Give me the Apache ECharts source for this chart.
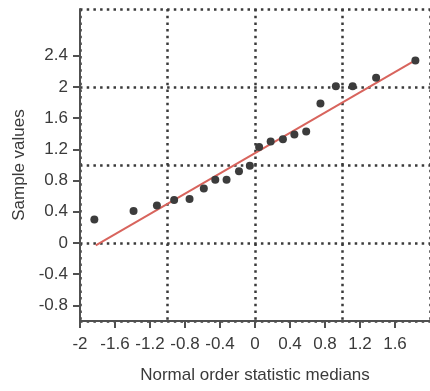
<!DOCTYPE html>
<html>
<head>
<meta charset="utf-8">
<script src="https://cdn.jsdelivr.net/npm/echarts@6/dist/echarts.min.js"></script>
<style>html,body{margin:0;padding:0;background:#fff}#c{width:430px;height:391px}</style>
</head>
<body>
<div id="c"></div>
<script>
var xMedians = [-1.836,-1.388,-1.121,-0.924,-0.748,-0.585,-0.454,-0.325,-0.183,-0.059,0.047,0.179,0.319,0.450,0.585,0.748,0.924,1.116,1.384,1.833];
var sampleValues = [0.30,0.41,0.48,0.55,0.565,0.70,0.81,0.81,0.92,0.99,1.23,1.30,1.33,1.39,1.43,1.79,2.01,2.01,2.12,2.34];
var fitLineX = [-1.82,1.83];
var fitLineY = [-0.03,2.34];
var xTickLabels = [-2,-1.6,-1.2,-0.8,-0.4,0,0.4,0.8,1.2,1.6];
var yTickLabels = [-0.8,-0.4,0,0.4,0.8,1.2,1.6,2,2.4];

var FONT = "'Liberation Sans',Arial,sans-serif";
var TXT = '#3a3a3a';
var chart = echarts.init(document.getElementById('c'), null, {renderer:'canvas'});
var dottedStyle = {color:'#3a3a3a', width:2.5, type:[2.5,4.2]};
chart.setOption({
  animation:false,
  grid:{left:80, top:9, width:354, height:312},
  xAxis:[{
    type:'value', min:-2, max:2,
    name:'Normal order statistic medians', nameLocation:'middle', nameGap:46,
    nameTextStyle:{fontFamily:FONT, fontSize:17, color:TXT},
    axisLine:{show:true, onZero:false, lineStyle:{color:'#505050', width:2}},
    axisTick:{show:true, length:7, customValues:xTickLabels, lineStyle:{color:'#505050', width:2}},
    axisLabel:{customValues:xTickLabels, margin:15, fontFamily:FONT, fontSize:17, color:TXT},
    splitLine:{show:false}
  },{
    type:'value', min:-2, max:2, interval:1, position:'bottom',
    axisLine:{show:false}, axisTick:{show:false}, axisLabel:{show:false},
    splitLine:{show:true, lineStyle:dottedStyle}
  }],
  yAxis:[{
    type:'value', min:-1, max:3,
    name:'Sample values', nameLocation:'middle', nameGap:50,
    nameTextStyle:{fontFamily:FONT, fontSize:17, color:TXT},
    axisLine:{show:true, onZero:false, lineStyle:{color:'#505050', width:2}},
    axisTick:{show:true, length:7, customValues:yTickLabels, lineStyle:{color:'#505050', width:2}},
    axisLabel:{customValues:yTickLabels, margin:12, fontFamily:FONT, fontSize:17, color:TXT},
    splitLine:{show:false}
  },{
    type:'value', min:-1, max:3, interval:1, position:'left',
    axisLine:{show:false}, axisTick:{show:false}, axisLabel:{show:false},
    splitLine:{show:true, lineStyle:dottedStyle}
  }],
  series:[{
    type:'line', xAxisIndex:0, yAxisIndex:0,
    data:fitLineX.map(function(x,i){return [x, fitLineY[i]];}),
    showSymbol:false, symbol:'none',
    lineStyle:{color:'#d8645d', width:2}, z:3
  },{
    type:'scatter', xAxisIndex:0, yAxisIndex:0,
    data:xMedians.map(function(x,i){return [x, sampleValues[i]];}),
    symbolSize:8, itemStyle:{color:'#3c3c3c', opacity:1}, z:4
  }]
});
</script>
</body>
</html>
